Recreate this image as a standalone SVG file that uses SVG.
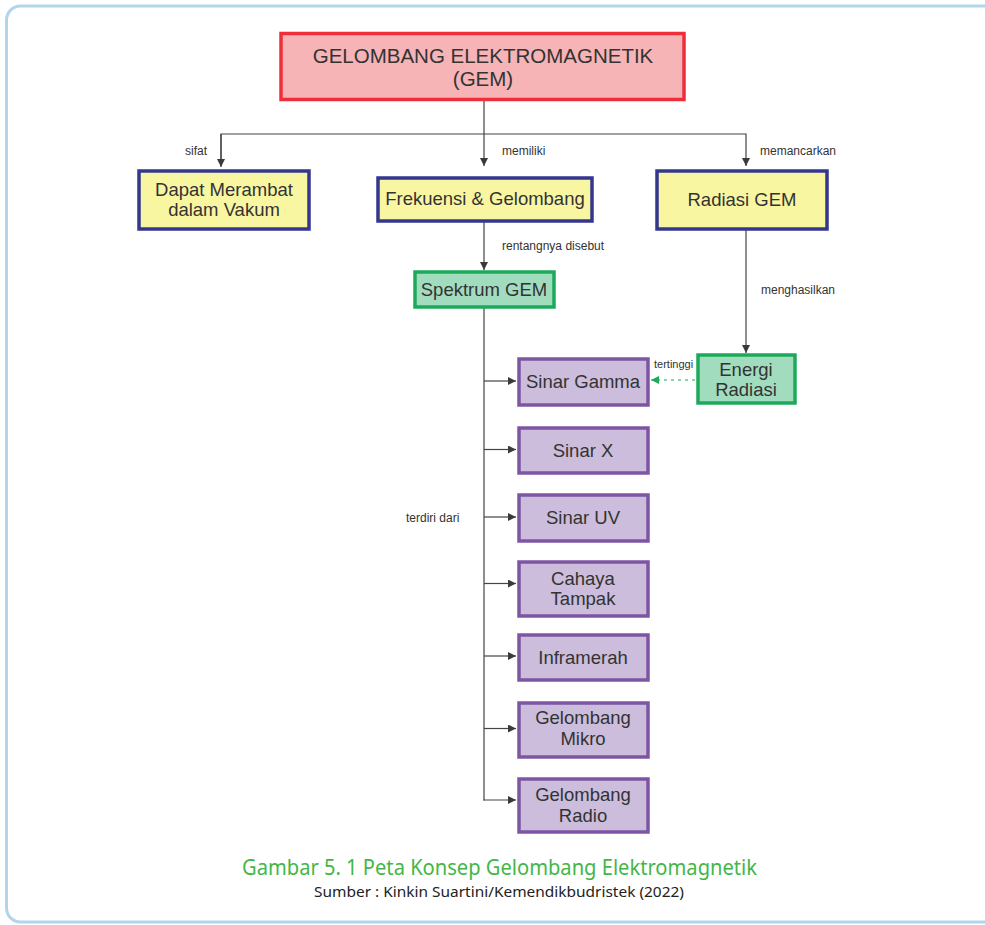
<svg xmlns="http://www.w3.org/2000/svg" width="985" height="925" viewBox="0 0 985 925">
<defs>
<marker id="ah" viewBox="0 0 10 10" refX="10" refY="5" markerWidth="8" markerHeight="8" markerUnits="userSpaceOnUse" orient="auto">
<path d="M0,0 L10,5 L0,10 Z" fill="#3a3a3a"/>
</marker>
<marker id="ahg" viewBox="0 0 10 10" refX="10" refY="5" markerWidth="8" markerHeight="8" markerUnits="userSpaceOnUse" orient="auto">
<path d="M0,0 L10,5 L0,10 Z" fill="#1caa5a"/>
</marker>
<style>
.t{font-family:"Liberation Sans",Arial,sans-serif;font-size:18.5px;fill:#333;text-anchor:middle}
.tt{font-family:"Liberation Sans",Arial,sans-serif;font-size:20.5px;fill:#333;text-anchor:middle}
.lb{font-family:"Liberation Sans",Arial,sans-serif;font-size:12px;fill:#333}
.red{fill:#f7b4b7;stroke:#ee2f3b;stroke-width:3.5}
.yel{fill:#f9f6a2;stroke:#35368f;stroke-width:3.5}
.grn{fill:#a2dcbf;stroke:#1caa5a;stroke-width:3.5}
.pur{fill:#cbbddb;stroke:#7d55a3;stroke-width:3.5}
.c{fill:none;stroke:#444;stroke-width:1.2}
</style>
</defs>
<rect x="6.5" y="6" width="992" height="916" rx="14" fill="#fff" stroke="#b3d5ec" stroke-width="3"/>

<g id="connectors">
<line class="c" x1="484" y1="100" x2="484" y2="166" marker-end="url(#ah)"/>
<polyline class="c" points="221,166 221,134 746,134 746,166" marker-end="url(#ah)"/>
<line class="c" x1="221" y1="134" x2="221" y2="167" marker-end="url(#ah)"/>
<line class="c" x1="484" y1="222" x2="484" y2="270" marker-end="url(#ah)"/>
<line class="c" x1="746" y1="230" x2="746" y2="353" marker-end="url(#ah)"/>
<line x1="695" y1="380" x2="651" y2="380" stroke="#1caa5a" stroke-width="1.2" stroke-dasharray="3,4" marker-end="url(#ahg)"/>
<line class="c" x1="484" y1="308" x2="484" y2="800.6"/>
<line class="c" x1="484" y1="381" x2="516" y2="381" marker-end="url(#ah)"/>
<line class="c" x1="484" y1="449.5" x2="516" y2="449.5" marker-end="url(#ah)"/>
<line class="c" x1="484" y1="517" x2="516" y2="517" marker-end="url(#ah)"/>
<line class="c" x1="484" y1="583.5" x2="516" y2="583.5" marker-end="url(#ah)"/>
<line class="c" x1="484" y1="656" x2="516" y2="656" marker-end="url(#ah)"/>
<line class="c" x1="484" y1="728.5" x2="516" y2="728.5" marker-end="url(#ah)"/>
<line class="c" x1="483.4" y1="800" x2="516" y2="800" marker-end="url(#ah)"/>
<text class="lb" x="185" y="155">sifat</text>
<text class="lb" x="502" y="155">memiliki</text>
<text class="lb" x="760" y="155">memancarkan</text>
<text class="lb" x="502" y="250">rentangnya disebut</text>
<text class="lb" x="761" y="294">menghasilkan</text>
<text class="lb" x="654" y="368" style="font-size:11px">tertinggi</text>
<text class="lb" x="406" y="522">terdiri dari</text>
</g>

<g id="node-gem">
<rect class="red" x="281" y="33.5" width="403" height="66"/>
<text class="tt" x="483" y="63">GELOMBANG ELEKTROMAGNETIK</text>
<text class="tt" x="483" y="86">(GEM)</text>
</g>
<g id="node-vakum">
<rect class="yel" x="139" y="171" width="170" height="58"/>
<text class="t" x="224" y="196">Dapat Merambat</text>
<text class="t" x="224" y="216">dalam Vakum</text>
</g>
<g id="node-frekuensi">
<rect class="yel" x="378" y="178" width="214" height="43"/>
<text class="t" x="485" y="205">Frekuensi &amp; Gelombang</text>
</g>
<g id="node-radiasi">
<rect class="yel" x="657" y="171" width="170" height="58"/>
<text class="t" x="742" y="206">Radiasi GEM</text>
</g>
<g id="node-spektrum">
<rect class="grn" x="415" y="272" width="139" height="35"/>
<text class="t" x="484" y="296">Spektrum GEM</text>
</g>
<g id="node-energi">
<rect class="grn" x="698" y="355" width="97" height="48"/>
<text class="t" x="746" y="376">Energi</text>
<text class="t" x="746" y="396">Radiasi</text>
</g>
<g id="node-gamma">
<rect class="pur" x="519" y="359" width="129" height="46"/>
<text class="t" x="583" y="388">Sinar Gamma</text>
</g>
<g id="node-x">
<rect class="pur" x="519" y="428" width="129" height="45"/>
<text class="t" x="583" y="457">Sinar X</text>
</g>
<g id="node-uv">
<rect class="pur" x="519" y="495" width="129" height="46"/>
<text class="t" x="583" y="524">Sinar UV</text>
</g>
<g id="node-cahaya">
<rect class="pur" x="519" y="562" width="129" height="54"/>
<text class="t" x="583" y="585">Cahaya</text>
<text class="t" x="583" y="605">Tampak</text>
</g>
<g id="node-inframerah">
<rect class="pur" x="519" y="635" width="129" height="45"/>
<text class="t" x="583" y="664">Inframerah</text>
</g>
<g id="node-mikro">
<rect class="pur" x="519" y="703" width="129" height="54"/>
<text class="t" x="583" y="724">Gelombang</text>
<text class="t" x="583" y="745">Mikro</text>
</g>
<g id="node-radio">
<rect class="pur" x="519" y="779" width="129" height="53"/>
<text class="t" x="583" y="801">Gelombang</text>
<text class="t" x="583" y="822">Radio</text>
</g>

<g id="caption">
<text x="242" y="875" textLength="515" lengthAdjust="spacingAndGlyphs" style="font-family:'Noto Sans','Open Sans',sans-serif;font-size:22px;fill:#44b649">Gambar 5. 1 Peta Konsep Gelombang Elektromagnetik</text>
<text x="314" y="897" textLength="370" lengthAdjust="spacingAndGlyphs" style="font-family:'Noto Sans','Open Sans',sans-serif;font-size:14.5px;fill:#222">Sumber : Kinkin Suartini/Kemendikbudristek (2022)</text>
</g>
</svg>
